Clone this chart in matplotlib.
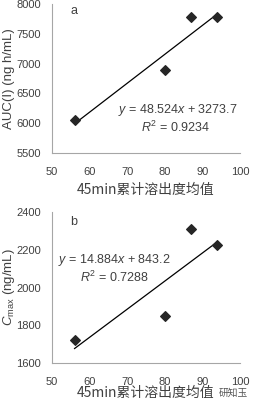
import matplotlib
matplotlib.use("Agg")
import matplotlib.pyplot as plt
import numpy as np

plt.rcParams['font.family'] = ['Liberation Sans', 'Noto Sans CJK SC', 'DejaVu Sans']
plt.rcParams['mathtext.fontset'] = 'custom'
plt.rcParams['mathtext.rm'] = 'Liberation Sans'
plt.rcParams['mathtext.it'] = 'Liberation Sans:italic'

# Data
x_diss = [56, 80, 87, 94]
auc = [6050, 6900, 7780, 7780]
cmax = [1720, 1850, 2310, 2225]
fit_a = (48.524, 3273.7)
fit_b = (14.884, 843.2)
eq_a = ["$y$ = 48.524$x$ + 3273.7", "$R^2$ = 0.9234"]
eq_b = ["$y$ = 14.884$x$ + 843.2", "$R^2$ = 0.7288"]
xlabel = "45min累计溶出度均值"
ylabel_a = "AUC(I) (ng h/mL)"
ylabel_b = r"$C_{\rm max}$ (ng/mL)"
xticks = [50, 60, 70, 80, 90, 100]
yticks_a = [5500, 6000, 6500, 7000, 7500, 8000]
yticks_b = [1600, 1800, 2000, 2200, 2400]

W, H = 264, 405
fig = plt.figure(figsize=(W / 100, H / 100), dpi=100)

def ax_rect(l, r, t, b):
    return [l / W, 1 - b / H, (r - l) / W, (b - t) / H]

axa = fig.add_axes(ax_rect(52, 240, 4, 153))
axb = fig.add_axes(ax_rect(52, 240, 212, 363))

spine_c = '#a6a6a6'
txt_c = '#404040'

def style(ax, yticks, ylab, fit, ys, eq, eq_pos, r2_pos, letter, letter_pos, xl_y, ax_h):
    ax.scatter(x_diss, ys, marker='D', s=24, color='#262626', zorder=3)
    xs = np.array([min(x_diss), max(x_diss)])
    ax.plot(xs, fit[0] * xs + fit[1], color='black', lw=0.9)
    ax.set_xlim(xticks[0], xticks[-1])
    ax.set_ylim(yticks[0], yticks[-1])
    ax.set_xticks(xticks)
    ax.set_yticks(yticks)
    for s in ['top', 'right']:
        ax.spines[s].set_visible(False)
    for s in ['left', 'bottom']:
        ax.spines[s].set_color(spine_c)
        ax.spines[s].set_linewidth(0.8)
    ax.tick_params(axis='x', length=0, labelsize=8, colors=txt_c, pad=10)
    ax.tick_params(axis='y', length=0, labelsize=8, colors=txt_c, pad=8)
    ax.set_ylabel(ylab, fontsize=9.5, color=txt_c, va='center')
    ax.yaxis.set_label_coords((9 - 52) / 188, 0.5)
    ax.set_xlabel(xlabel, fontsize=10, color=txt_c, va='center',
                  family=['Noto Sans CJK SC'])
    ax.xaxis.set_label_coords(0.5, -xl_y / ax_h)
    ax.text(*eq_pos, eq[0], fontsize=9, color=txt_c, ha='center', va='center')
    ax.text(*r2_pos, eq[1], fontsize=9, color=txt_c, ha='center', va='center')
    ax.text(*letter_pos, letter, fontsize=9, color=txt_c, ha='left', va='center')

style(axa, yticks_a, ylabel_a, fit_a, auc, eq_a, (83.5, 6221), (83.0, 5936),
      'a', (54.8, 7883), 37, 149)
style(axb, yticks_b, ylabel_b, fit_b, cmax, eq_b, (66.7, 2146), (66.6, 2056),
      'b', (54.8, 2347), 30, 151)

fig.text(233 / W, 1 - 393 / H, "研知玉", fontsize=7, color='#555555',
         family=['Noto Sans CJK SC'], ha='center', va='center')

fig.savefig("out.png", dpi=100)
